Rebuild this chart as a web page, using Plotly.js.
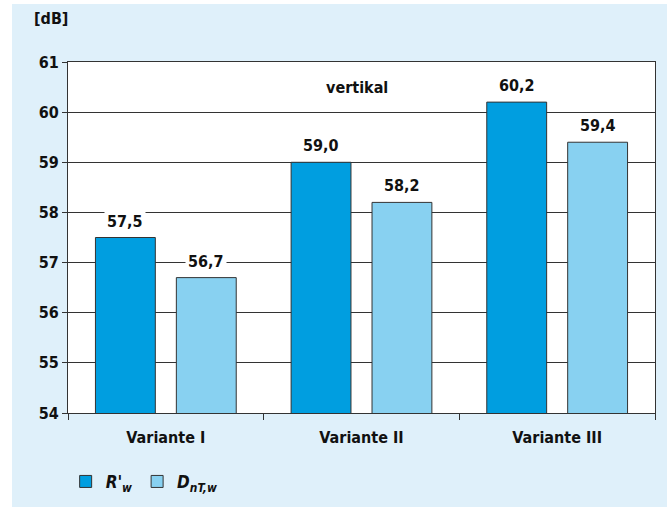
<!DOCTYPE html>
<html>
<head>
<meta charset="utf-8">
<script src="https://cdn.plot.ly/plotly-3.0.1.min.js"></script>
<style>html,body{margin:0;padding:0;background:#fff;}#chart{width:672px;height:507px;}</style>
</head>
<body>
<div id="chart"></div>
<script>
const categories = ['Variante I', 'Variante II', 'Variante III'];
const rwValues = [57.5, 59.0, 60.2];
const dntwValues = [56.7, 58.2, 59.4];
const seriesNames = ["<i>R'<sub>w</sub></i>", "<i>D<sub>nT,w</sub></i>"];
const yTicks = [54, 55, 56, 57, 58, 59, 60, 61];
const unitLabel = '[dB]';
const noteLabel = 'vertikal';

const darkBlue = '#009ee0';
const lightBlue = '#88d1f1';
const bgBlue = '#dff0fa';
const lineCol = '#333333';
const fontFam = '"DejaVu Sans Condensed", "DejaVu Sans", sans-serif';
const txtCol = '#111111';

function fmt(v) { return v.toFixed(1).replace('.', ','); }

const traces = [
  {type: 'bar', x: categories, y: rwValues, name: seriesNames[0],
   marker: {color: darkBlue, line: {color: lineCol, width: 1}}, hoverinfo: 'none'},
  {type: 'bar', x: categories, y: dntwValues, name: seriesNames[1],
   marker: {color: lightBlue, line: {color: lineCol, width: 1}}, hoverinfo: 'none'}
];

const baseFont = {family: fontFam, size: 16, color: txtCol, weight: 'bold'};

const annotations = [];
const offset = 0.207;
[rwValues, dntwValues].forEach(function (vals, s) {
  vals.forEach(function (v, i) {
    annotations.push({
      xref: 'x', yref: 'y', x: i + (s === 0 ? -offset : offset), y: v,
      text: fmt(v), showarrow: false, yanchor: 'bottom', yshift: 4,
      bgcolor: '#ffffff', borderpad: 2, font: baseFont
    });
  });
});
annotations.push({xref: 'paper', yref: 'paper', x: -0.062, y: 1.125, xanchor: 'left', yanchor: 'middle',
  text: unitLabel, showarrow: false, font: baseFont});
annotations.push({xref: 'paper', yref: 'paper', x: 0.492, y: 0.926, xanchor: 'center', yanchor: 'middle',
  text: noteLabel, showarrow: false, font: baseFont});

const layout = {
  width: 672, height: 507,
  margin: {l: 68, r: 17, t: 62, b: 94, pad: 0, autoexpand: false},
  paper_bgcolor: '#ffffff',
  plot_bgcolor: 'rgba(0,0,0,0)',
  separators: ',.',
  barmode: 'group', bargap: 0.173, bargroupgap: 0.26,
  font: baseFont,
  showlegend: true,
  legend: {orientation: 'h', x: -0.004, y: -0.145, xanchor: 'left', yanchor: 'top',
    bgcolor: 'rgba(0,0,0,0)', font: {family: fontFam, size: 17, color: txtCol, weight: 'bold'}, itemwidth: 30},
  xaxis: {type: 'category', showline: true, linecolor: lineCol, linewidth: 1, mirror: true,
    ticks: 'outside', tickson: 'boundaries', ticklen: 6, tickcolor: lineCol, automargin: false,
    ticklabelstandoff: 10, showgrid: false, fixedrange: true, tickfont: baseFont},
  yaxis: {range: [54, 61], tickvals: yTicks, showline: true, linecolor: lineCol, linewidth: 1, mirror: true,
    ticks: 'outside', ticklen: 5, tickcolor: lineCol, showgrid: true, gridcolor: lineCol, gridwidth: 1, automargin: false,
    zeroline: false, fixedrange: true, tickfont: baseFont},
  shapes: [
    {type: 'rect', xref: 'paper', yref: 'paper', layer: 'below',
     x0: -56 / 587, x1: 599 / 587, y0: -94 / 351, y1: 409 / 351,
     fillcolor: bgBlue, line: {width: 0}},
    {type: 'rect', xref: 'paper', yref: 'paper', layer: 'below',
     x0: 0, x1: 1, y0: 0, y1: 1, fillcolor: '#ffffff', line: {width: 0}}
  ],
  annotations: annotations
};

Plotly.newPlot('chart', traces, layout, {displayModeBar: false, staticPlot: true});
</script>
</body>
</html>
